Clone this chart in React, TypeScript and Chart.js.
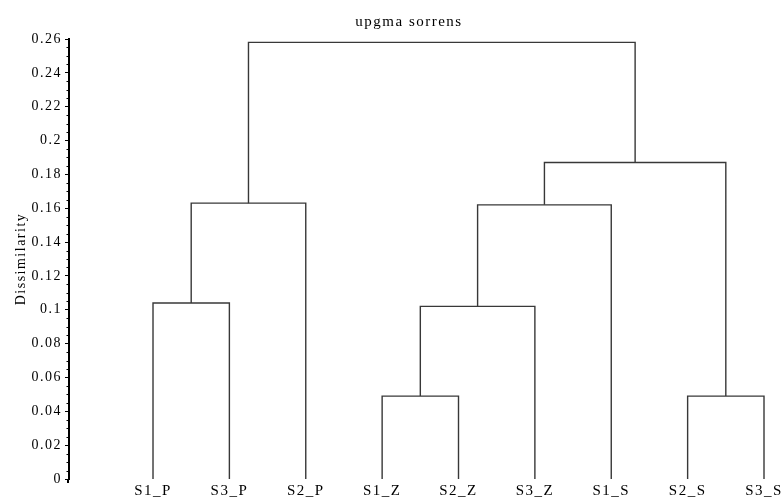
import React, { useEffect, useRef } from "react";
import { Chart, registerables } from "chart.js";

Chart.register(...registerables);

// Leaves of the UPGMA tree, in drawing order
const leaves = ["S1_P", "S3_P", "S2_P", "S1_Z", "S2_Z", "S3_Z", "S1_S", "S2_S", "S3_S"];

// Merge steps: node ids 0..8 are leaves, each merge creates node 9, 10, ...
const mergeLeft = [0, 9, 3, 11, 12, 7, 13, 10];
const mergeRight = [1, 2, 4, 5, 6, 8, 14, 15];
const mergeHeight = [0.104, 0.163, 0.049, 0.102, 0.162, 0.049, 0.187, 0.258];

// Y axis ticks
const yMajorTicks = [0, 0.02, 0.04, 0.06, 0.08, 0.1, 0.12, 0.14, 0.16, 0.18, 0.2, 0.22, 0.24, 0.26];
const yMinorStep = 0.005;

const titleText = "upgma sorrens";
const yTitleText = "Dissimilarity";

const FONT = "'Liberation Serif', 'Times New Roman', serif";
const LINE_COLOR = "#383838";

function buildSegments() {
  const xs: number[] = leaves.map((_, i) => i + 1);
  const hs: number[] = leaves.map(() => 0);
  const sets: any[] = [];
  mergeLeft.forEach((a, k) => {
    const b = mergeRight[k];
    const h = mergeHeight[k];
    sets.push({
      data: [
        { x: xs[a], y: hs[a] },
        { x: xs[a], y: h },
        { x: xs[b], y: h },
        { x: xs[b], y: hs[b] },
      ],
      showLine: true,
      borderColor: LINE_COLOR,
      borderWidth: 1.4,
      pointRadius: 0,
      pointHoverRadius: 0,
      fill: false,
      tension: 0,
    });
    xs.push((xs[a] + xs[b]) / 2);
    hs.push(h);
  });
  return sets;
}

const spacingPlugin = {
  id: "letterSpacing",
  beforeDraw(chart: any) {
    chart.ctx.letterSpacing = "1.5px";
  },
};

const minorTicksPlugin = {
  id: "minorTicks",
  afterDraw(chart: any) {
    const y = chart.scales.y;
    const ctx = chart.ctx;
    ctx.save();
    ctx.strokeStyle = "#000";
    ctx.lineWidth = 1;
    const left = chart.chartArea.left;
    const max = yMajorTicks[yMajorTicks.length - 1];
    for (let i = 0; i * yMinorStep <= max + 1e-9; i++) {
      if (i % 4 === 0) continue;
      const py = Math.round(y.getPixelForValue(i * yMinorStep)) + 0.5;
      ctx.beginPath();
      ctx.moveTo(left - 2.5, py);
      ctx.lineTo(left, py);
      ctx.stroke();
    }
    // axis line runs a little past zero
    const y0 = y.getPixelForValue(0);
    ctx.lineWidth = 2;
    ctx.beginPath();
    ctx.moveTo(left - 1, y0);
    ctx.lineTo(left - 1, y0 + 4);
    ctx.stroke();
    ctx.restore();
  },
};

const titlePlugin = {
  id: "plotTitle",
  afterDraw(chart: any) {
    const ctx = chart.ctx;
    ctx.save();
    ctx.font = `15px ${FONT}`;
    ctx.fillStyle = "#000";
    ctx.textAlign = "center";
    ctx.textBaseline = "middle";
    ctx.fillText(titleText, 409, 22);
    ctx.restore();
  },
};

export default function App() {
  const ref = useRef<HTMLCanvasElement | null>(null);

  useEffect(() => {
    if (!ref.current) return;
    const chart = new Chart(ref.current, {
      type: "scatter",
      data: { datasets: buildSegments() },
      options: {
        responsive: false,
        animation: false,
        layout: { padding: { top: 39, right: 8, left: 0, bottom: 0 } },
        plugins: {
          legend: { display: false },
          tooltip: { enabled: false },
          title: { display: false },
        },
        scales: {
          x: {
            type: "linear",
            min: -0.1,
            max: 9.144,
            grid: { display: false, drawTicks: false },
            border: { display: false },
            afterBuildTicks: (scale: any) => {
              scale.ticks = leaves.map((_, i) => ({ value: i + 1 }));
            },
            afterFit: (scale: any) => {
              scale.height = 19;
              scale.paddingLeft = 0;
              scale.paddingRight = 0;
            },
            ticks: {
              autoSkip: false,
              maxRotation: 0,
              minRotation: 0,
              padding: 3,
              color: "#000",
              font: { family: FONT, size: 15 },
              callback: (v: any) => leaves[Math.round(Number(v)) - 1] ?? "",
            },
          },
          y: {
            type: "linear",
            min: 0,
            max: yMajorTicks[yMajorTicks.length - 1],
            afterBuildTicks: (scale: any) => {
              scale.ticks = yMajorTicks.map((v) => ({ value: v }));
            },
            afterFit: (scale: any) => {
              scale.width = 69;
            },
            grid: {
              drawOnChartArea: false,
              drawTicks: true,
              tickLength: 4,
              tickColor: "#000",
              tickWidth: 1,
            },
            border: { display: true, color: "#000", width: 2 },
            ticks: {
              padding: 3,
              color: "#000",
              font: { family: FONT, size: 14 },
              callback: (v: any) => String(Number(Number(v).toFixed(3))),
            },
            title: {
              display: true,
              text: yTitleText,
              color: "#000",
              font: { family: FONT, size: 14 },
              padding: { top: 13, bottom: 0 },
            },
          },
        },
      },
      plugins: [spacingPlugin, minorTicksPlugin, titlePlugin],
    });
    return () => chart.destroy();
  }, []);

  return (
    <div style={{ position: "fixed", left: 0, top: 0, width: 783, height: 498, background: "#fff" }}>
      <canvas ref={ref} width={783} height={498} />
    </div>
  );
}
